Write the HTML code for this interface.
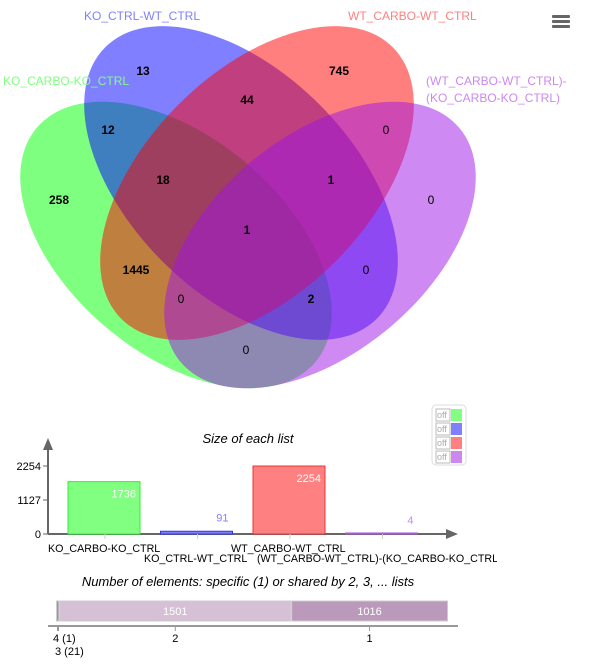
<!DOCTYPE html>
<html><head><meta charset="utf-8"><style>
body{margin:0;background:#fff;width:593px;height:665px;overflow:hidden;font-family:"Liberation Sans",sans-serif}
svg{position:absolute;left:0;top:0}
</style></head><body>
<svg width="593" height="665" font-family="Liberation Sans, sans-serif">
<defs><clipPath id="clipx"><rect x="0" y="0" width="497" height="665"/></clipPath></defs>
<g>
<ellipse cx="176" cy="245" rx="182" ry="108" transform="rotate(40 176 245)" fill="rgb(0,255,0)" fill-opacity="0.5"/>
<ellipse cx="241" cy="183" rx="192" ry="111" transform="rotate(45 241 183)" fill="rgb(0,0,255)" fill-opacity="0.5"/>
<ellipse cx="257" cy="183" rx="192" ry="111" transform="rotate(-45 257 183)" fill="rgb(255,0,0)" fill-opacity="0.5"/>
<ellipse cx="320" cy="245" rx="182" ry="108" transform="rotate(-40 320 245)" fill="rgb(158,20,230)" fill-opacity="0.5"/>
</g>
<g font-size="12">
<text x="84" y="20" fill="#8080ff">KO_CTRL-WT_CTRL</text>
<text x="348" y="20" fill="#ff8080">WT_CARBO-WT_CTRL</text>
<text x="3" y="85" fill="#80ff80">KO_CARBO-KO_CTRL</text>
<text x="426" y="85" fill="#cc88f0">(WT_CARBO-WT_CTRL)-</text>
<text x="426" y="102" fill="#cc88f0">(KO_CARBO-KO_CTRL)</text>
</g>
<g font-size="12" text-anchor="middle" fill="#000">
<text x="143" y="75" font-weight="bold">13</text>
<text x="339" y="75" font-weight="bold">745</text>
<text x="247" y="104" font-weight="bold">44</text>
<text x="108" y="134" font-weight="bold">12</text>
<text x="386" y="134">0</text>
<text x="163" y="184" font-weight="bold">18</text>
<text x="331" y="184" font-weight="bold">1</text>
<text x="59" y="204" font-weight="bold">258</text>
<text x="431" y="204">0</text>
<text x="247" y="234" font-weight="bold">1</text>
<text x="136" y="274" font-weight="bold">1445</text>
<text x="366" y="274">0</text>
<text x="181" y="303">0</text>
<text x="311" y="303" font-weight="bold">2</text>
<text x="246" y="354">0</text>
</g>
<g fill="#666">
<rect x="552" y="15" width="18" height="3" rx="1"/><rect x="552" y="20" width="18" height="3" rx="1"/><rect x="552" y="25" width="18" height="3" rx="1"/>
</g>
<g>
<rect x="432" y="405" width="34" height="60" rx="4" fill="#fff" stroke="#ddd"/>
</g>
<g id="bars" clip-path="url(#clipx)"></g>
<text x="248" y="443" font-size="13" font-style="italic" text-anchor="middle">Size of each list</text>
<text x="248" y="586" font-size="13" font-style="italic" text-anchor="middle">Number of elements: specific (1) or shared by 2, 3, ... lists</text>
</svg>
<script>
const categories=["KO_CARBO-KO_CTRL","KO_CTRL-WT_CTRL","WT_CARBO-WT_CTRL","(WT_CARBO-WT_CTRL)-(KO_CARBO-KO_CTRL)"];
const sizes=[1736,91,2254,4];
const colors=["#80ff80","#8080ff","#ff8080","#cc88f0"];
const strokes=["#33ee33","#3333ee","#ee3333","#aa55dd"];
const yTicks=[0,1127,2254];
const sharedLabels=["4 (1)","2","1"];
const sharedValues=[22,1501,1016];
const NS="http://www.w3.org/2000/svg";
const g=document.getElementById('bars');
function mk(t,a,p){const e=document.createElementNS(NS,t);for(const k in a)e.setAttribute(k,a[k]);(p||g).appendChild(e);return e;}
const y0=534,yTop=466,maxV=2254;
function ys(v){return y0-(v/maxV)*(y0-yTop);}
function xs(i){return 68+i*92.5;}
mk('line',{x1:48,y1:y0,x2:448,y2:y0,stroke:'#666','stroke-width':2});
mk('polygon',{points:'458,534 446,529 446,539',fill:'#666'});
mk('line',{x1:48,y1:y0,x2:48,y2:448,stroke:'#666','stroke-width':2});
mk('polygon',{points:'48,438 43,450 53,450',fill:'#666'});
yTicks.forEach(v=>{
 mk('line',{x1:43,y1:ys(v),x2:48,y2:ys(v),stroke:'#666'});
 const t=mk('text',{x:41,y:ys(v)+4,'font-size':11,'text-anchor':'end'});t.textContent=v;
 
 
});
categories.forEach((c,i)=>{
 const x=xs(i),top=ys(sizes[i]),h=Math.max(y0-top,1);
 const r=mk('rect',{x:x,y:y0-h,width:72,height:h,fill:colors[i],stroke:strokes[i]});
 
 
 const inside=h>30;
 const v=mk('text',{x:x+68,y:inside?top+16:top-10,'font-size':11,'text-anchor':'end',fill:inside?'#fff':colors[i]});
 v.textContent=sizes[i];
 
 
 mk('line',{x1:x+37,y1:y0,x2:x+37,y2:y0+5,stroke:'#ccc'});
 const l=mk('text',{x:i===0?48:(i===1?144:(i===2?231:257)),y:i%2===0?552:562,'font-size':10.7});
 l.textContent=c;
 
 
 const ly=409+i*14;
 mk('rect',{x:436,y:ly,width:14,height:12,fill:'#fff',stroke:'#bbb'});
 const o=mk('text',{x:437,y:ly+9,'font-size':9,fill:'#aaa'});o.textContent='off';
 
 
 mk('rect',{x:451,y:ly,width:11,height:12,fill:colors[i]});
});
const total=sharedValues.reduce((a,b)=>a+b,0);
const sx0=56,sw=392;
const sfill=["#999","#d5c0d5","#bb99bb"];
let cx=sx0;const centers=[];
sharedValues.forEach((v,i)=>{
 const w=v/total*sw;
 const r=mk('rect',{x:cx+0.5,y:601,width:Math.max(w-1,2),height:20,fill:sfill[i],stroke:'#ccc'});
 
 
 if(w>40){const t=mk('text',{x:cx+w/2,y:615,'font-size':11,'text-anchor':'middle',fill:'#fff'});t.textContent=v;
 
 }
 centers.push(cx+w/2);cx+=w;
});
mk('line',{x1:48,y1:626,x2:458,y2:626,stroke:'#333'});
sharedLabels.forEach((s,i)=>{
 const x=i===0?58:centers[i];
 mk('line',{x1:x,y1:626,x2:x,y2:631,stroke:'#999','stroke-width':i===0?2:1});
 const t=mk('text',{x:i===0?53:x,y:642,'font-size':11,'text-anchor':i===0?'start':'middle'});t.textContent=s;
 
 
});
const t3=mk('text',{x:55,y:655,'font-size':11});t3.textContent="3 (21)";


</script>
</body></html>
